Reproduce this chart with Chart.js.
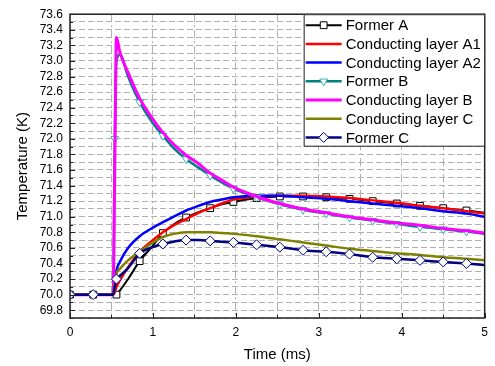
<!DOCTYPE html>
<html>
<head>
<meta charset="utf-8">
<script src="https://cdn.jsdelivr.net/npm/chart.js@4.4.1/dist/chart.umd.min.js"></script>
<style>
  html, body { margin: 0; padding: 0; background: #fff; }
</style>
</head>
<body>
<canvas id="chart" width="495" height="366"></canvas>
<script>
// Tiempos (ms) comunes a todas las curvas
const times = [0, 0.28, 0.5, 0.52, 0.54, 0.56, 0.6, 0.7, 0.84, 1.0, 1.12, 1.25, 1.4, 1.55,
  1.69, 1.83, 1.97, 2.25, 2.53, 2.81, 3.09, 3.37, 3.65, 3.94, 4.22, 4.5, 4.78, 5.0];

// Temperaturas (K)
const formerA = [70, 70, 70, 70, 70, 70, 70.05, 70.2, 70.43, 70.63, 70.79, 70.9, 70.99, 71.06,
  71.11, 71.16, 71.19, 71.24, 71.26, 71.26, 71.25, 71.23, 71.2, 71.17, 71.14, 71.11, 71.08, 71.05];
const layerA1 = [70, 70, 70, 70, 70.03, 70.1, 70.18, 70.35, 70.55, 70.7, 70.8, 70.89, 70.97, 71.05,
  71.11, 71.17, 71.22, 71.26, 71.27, 71.27, 71.26, 71.24, 71.21, 71.18, 71.14, 71.11, 71.07, 71.04];
const layerA2 = [70, 70, 70, 70, 70.15, 70.31, 70.42, 70.6, 70.75, 70.86, 70.93, 71.0, 71.08, 71.14,
  71.19, 71.22, 71.25, 71.27, 71.27, 71.25, 71.23, 71.2, 71.17, 71.14, 71.11, 71.07, 71.04, 71.0];
const formerB = [70, 70, 70, 70, 72.0, 73.0, 73.08, 72.8, 72.47, 72.2, 72.04, 71.88, 71.74, 71.63,
  71.53, 71.44, 71.36, 71.25, 71.16, 71.09, 71.04, 70.99, 70.95, 70.91, 70.87, 70.84, 70.81, 70.78];
const layerB = [70, 70, 70, 70, 71.65, 73.3, 73.12, 72.85, 72.52, 72.25, 72.08, 71.93, 71.79, 71.68,
  71.56, 71.47, 71.38, 71.26, 71.17, 71.1, 71.05, 71.0, 70.96, 70.92, 70.89, 70.85, 70.82, 70.79];
const layerC = [70, 70, 70, 70, 70.15, 70.27, 70.33, 70.44, 70.55, 70.67, 70.74, 70.78, 70.8, 70.8,
  70.8, 70.79, 70.78, 70.75, 70.71, 70.67, 70.63, 70.59, 70.56, 70.53, 70.51, 70.48, 70.46, 70.44];
const formerC = [70, 70, 70, 70, 70.1, 70.2, 70.24, 70.34, 70.53, 70.61, 70.65, 70.68, 70.7, 70.7,
  70.69, 70.68, 70.67, 70.64, 70.61, 70.57, 70.55, 70.52, 70.48, 70.46, 70.44, 70.42, 70.4, 70.38];

// Tiempos donde se dibujan los marcadores
const markTimes = [0, 0.28, 0.56, 0.84, 1.12, 1.4, 1.69, 1.97, 2.25, 2.53, 2.81, 3.09, 3.37,
  3.65, 3.94, 4.22, 4.5, 4.78];
const markTimesB = [0, 0.28, 0.54, 0.84, 1.12, 1.4, 1.69, 1.97, 2.25, 2.53, 2.81, 3.09, 3.37,
  3.65, 3.94, 4.22, 4.5, 4.78];

// Etiquetas de ejes
const xTickLabels = ['0', '1', '2', '3', '4', '5'];
const yTickLabels = ['69.8', '70.0', '70.2', '70.4', '70.6', '70.8', '71.0', '71.2', '71.4', '71.6',
  '71.8', '72.0', '72.2', '72.4', '72.6', '72.8', '73.0', '73.2', '73.4', '73.6'];

const FONT = "'Liberation Sans', Arial, sans-serif";
const xGrid = [];
for (let i = 0; i <= 10; i++) xGrid.push(i * 0.5);
const yGrid = [];
for (let i = 0; i <= 39; i++) yGrid.push(+(69.7 + i * 0.1).toFixed(1));

function series(label, values, color, width, style, marks, markColor, radius) {
  return {
    label: label,
    data: times.map((t, i) => ({ x: t, y: values[i] })),
    borderColor: color,
    backgroundColor: color,
    borderWidth: width,
    pointStyle: style || 'circle',
    pointRotation: style === 'triangle' ? 180 : 0,
    pointRadius: times.map(t => (style && marks.includes(t)) ? radius : 0),
    pointBackgroundColor: '#fff',
    pointBorderColor: markColor || color,
    pointBorderWidth: 1,
    legendRadius: radius,
    cubicInterpolationMode: 'monotone',
    fill: false
  };
}

const datasets = [
  series('Former A', formerA, '#000000', 2, 'rect', markTimes, '#000000', 4.8),
  series('Conducting layer A1', layerA1, '#ff0000', 2.5),
  series('Conducting layer A2', layerA2, '#0000ff', 2.5),
  series('Former B', formerB, '#008080', 2.5, 'triangle', markTimesB, '#33b3b3', 4.5),
  series('Conducting layer B', layerB, '#ff00ff', 3),
  series('Conducting layer C', layerC, '#808000', 2.5),
  series('Former C', formerC, '#000080', 2.5, 'rectRot', markTimes, '#000080', 5)
];
// las últimas series quedan encima
datasets.forEach((d, i) => { d.order = datasets.length - i; });

function drawMarker(ctx, style, x, y, r, stroke) {
  ctx.beginPath();
  if (style === 'rect') {
    const s = r * Math.SQRT1_2;
    ctx.rect(x - s, y - s, 2 * s, 2 * s);
  } else if (style === 'rectRot') {
    ctx.moveTo(x, y - r); ctx.lineTo(x + r, y); ctx.lineTo(x, y + r); ctx.lineTo(x - r, y);
    ctx.closePath();
  } else if (style === 'triangle') {
    ctx.moveTo(x - r * 0.866, y - r / 2); ctx.lineTo(x + r * 0.866, y - r / 2); ctx.lineTo(x, y + r);
    ctx.closePath();
  }
  ctx.fillStyle = '#fff';
  ctx.fill();
  ctx.strokeStyle = stroke;
  ctx.lineWidth = 1;
  ctx.stroke();
}

// Marco, marcas interiores y leyenda dentro del área
const framePlugin = {
  id: 'frame',
  afterDraw(chart) {
    const { ctx, chartArea: a } = chart;
    const x = chart.scales.x, y = chart.scales.y;
    ctx.save();
    ctx.strokeStyle = '#222';
    ctx.lineWidth = 1;
    ctx.beginPath();
    xGrid.forEach(v => {
      const px = Math.round(x.getPixelForValue(v)) + 0.5;
      const len = Number.isInteger(v) ? 5 : 3;
      ctx.moveTo(px, a.bottom); ctx.lineTo(px, a.bottom - len);
    });
    yGrid.forEach(v => {
      const py = Math.round(y.getPixelForValue(v)) + 0.5;
      const len = yTickLabels.includes(v.toFixed(1)) ? 5 : 3;
      ctx.moveTo(a.left, py); ctx.lineTo(a.left + len, py);
    });
    ctx.stroke();
    ctx.lineWidth = 1.5;
    ctx.strokeRect(a.left, a.top, a.right - a.left, a.bottom - a.top);

    // leyenda
    const bw = 181, bh = 132;
    const bx = a.right - bw, by = a.top;
    ctx.fillStyle = '#fff';
    ctx.fillRect(bx, by, bw, bh);
    ctx.lineWidth = 1;
    ctx.strokeStyle = '#222';
    ctx.strokeRect(bx + 0.5, by + 0.5, bw - 0.5, bh - 0.5);
    ctx.font = '15px ' + FONT;
    ctx.textBaseline = 'middle';
    datasets.forEach((d, i) => {
      const ry = by + 11 + i * 18.7;
      ctx.strokeStyle = d.borderColor;
      ctx.lineWidth = d.borderWidth;
      ctx.beginPath();
      ctx.moveTo(bx + 2, ry); ctx.lineTo(bx + 38, ry);
      ctx.stroke();
      if (d.pointStyle !== 'circle') {
        drawMarker(ctx, d.pointStyle, bx + 20, ry, d.legendRadius, d.pointBorderColor);
      }
      ctx.fillStyle = '#000';
      ctx.fillText(d.label, bx + 42, ry + 1);
    });
    ctx.restore();
  }
};

const ctx = document.getElementById('chart').getContext('2d');
new Chart(ctx, {
  type: 'line',
  data: { datasets: datasets },
  plugins: [framePlugin],
  options: {
    responsive: false,
    animation: false,
    events: [],
    layout: { padding: { top: 13, right: 10, left: 0, bottom: 0 } },
    plugins: {
      legend: { display: false },
      tooltip: { enabled: false }
    },
    scales: {
      x: {
        type: 'linear',
        min: 0,
        max: 5,
        afterBuildTicks: s => { s.ticks = xGrid.map(v => ({ value: v })); },
        afterFit: s => { s.height = 48; },
        ticks: {
          autoSkip: false,
          maxRotation: 0,
          padding: 7,
          color: '#000',
          font: { family: FONT, size: 12 },
          callback: v => xTickLabels.includes(String(v)) ? String(v) : ''
        },
        grid: { color: '#b0b0b0', lineWidth: 1, drawTicks: false },
        border: { display: false, dash: [8, 3, 2, 3] },
        title: {
          display: true,
          text: 'Time (ms)',
          color: '#000',
          font: { family: FONT, size: 15 },
          padding: { top: 0, bottom: 2 }
        }
      },
      y: {
        type: 'linear',
        min: 69.7,
        max: 73.6,
        afterBuildTicks: s => { s.ticks = yGrid.map(v => ({ value: v })); },
        afterFit: s => { s.width = 70; },
        ticks: {
          autoSkip: false,
          padding: 7,
          color: '#000',
          font: { family: FONT, size: 12 },
          callback: v => {
            const t = Number(v).toFixed(1);
            return yTickLabels.includes(t) ? t : '';
          }
        },
        grid: { color: '#b0b0b0', lineWidth: 1, drawTicks: false },
        border: { display: false, dash: [6, 3] },
        title: {
          display: true,
          text: 'Temperature (K)',
          color: '#000',
          font: { family: FONT, size: 15 },
          padding: { top: 14, bottom: 0 }
        }
      }
    }
  }
});
</script>
</body>
</html>
